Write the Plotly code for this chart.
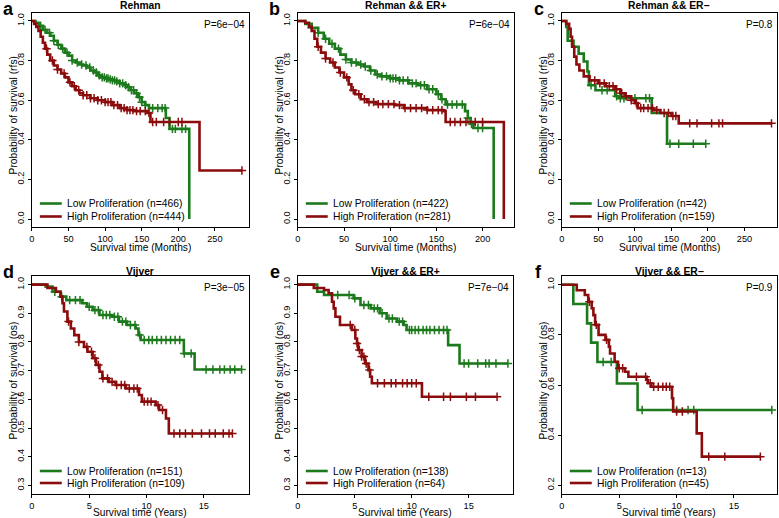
import plotly.graph_objects as go

W, H = 779, 518
GREEN = "#1c7a1c"
RED = "#8b0c0c"
FONT = "Liberation Sans, Arial, Helvetica, sans-serif"

# ---------------- labels ----------------
titles = ["Rehman", "Rehman && ER+", "Rehman && ER\u2212",
          "Vijver", "Vijver && ER+", "Vijver && ER\u2212"]
letters = ["a", "b", "c", "d", "e", "f"]
pvalues = ["P=6e\u221204", "P=6e\u221204", "P=0.8", "P=3e\u221205", "P=7e\u221204", "P=0.9"]
n_low = [466, 422, 42, 151, 138, 13]
n_high = [444, 281, 159, 109, 64, 45]
ytitles = ["Probability of survival (rfs)"] * 3 + ["Probability of survival (os)"] * 3
xtitles = ["Survival time (Months)"] * 3 + ["Survival time (Years)"] * 3

# ---------------- panel a : Rehman ----------------
a_low_t = [5, 10, 15, 20, 25, 30, 35, 40, 45, 50, 55, 60, 65, 70, 75, 80, 85, 90, 95, 100,
           105, 110, 115, 120, 125, 130, 135, 140, 145, 150, 155, 160, 183, 188, 215]
a_low_s = [0.99, 0.975, 0.955, 0.94, 0.925, 0.9, 0.88, 0.86, 0.84, 0.825, 0.8, 0.79, 0.78,
           0.775, 0.765, 0.75, 0.74, 0.725, 0.715, 0.71, 0.705, 0.7, 0.695, 0.685, 0.675,
           0.665, 0.65, 0.635, 0.615, 0.59, 0.575, 0.56, 0.51, 0.455, 0.0]
a_low_end = 215
a_low_cens = [12, 18, 24, 30, 36, 42, 48, 55, 62, 68, 74, 79, 84, 88, 92, 96, 99, 102, 104, 107,
              110, 113, 116, 120, 124, 128, 132, 136, 139, 143, 147, 150, 155, 165, 172, 178,
              182, 192, 196, 205, 210]
a_high_t = [3, 6, 9, 12, 15, 18, 21, 25, 30, 35, 40, 45, 50, 55, 60, 65, 70, 80, 90, 100,
            110, 120, 130, 140, 158, 162, 229]
a_high_s = [0.985, 0.97, 0.95, 0.92, 0.89, 0.86, 0.83, 0.8, 0.775, 0.755, 0.735, 0.715, 0.69,
            0.67, 0.65, 0.635, 0.625, 0.61, 0.6, 0.59, 0.575, 0.56, 0.55, 0.545, 0.535, 0.49,
            0.245]
a_high_end = 287
a_high_cens = [20, 28, 35, 44, 52, 58, 64, 70, 75, 80, 85, 90, 95, 100, 104, 108, 112, 117, 122,
               126, 130, 134, 138, 143, 148, 155, 160, 165, 170, 180, 188, 200, 205, 287]

# ---------------- panel b : Rehman && ER+ ----------------
b_low_t = [8, 15, 22, 28, 34, 40, 46, 52, 58, 65, 72, 78, 84, 90, 100, 110, 120, 130, 140,
           150, 155, 160, 181, 184, 187, 190, 212]
b_low_s = [0.985, 0.965, 0.94, 0.91, 0.885, 0.86, 0.83, 0.805, 0.79, 0.78, 0.77, 0.75, 0.73,
           0.72, 0.71, 0.7, 0.685, 0.675, 0.655, 0.63, 0.605, 0.578, 0.545, 0.51, 0.48, 0.46, 0.0]
b_low_end = 212
b_low_cens = [15, 22, 30, 37, 44, 52, 58, 63, 68, 73, 79, 86, 91, 96, 100, 103, 106, 110, 114,
              119, 124, 128, 133, 137, 142, 146, 152, 156, 162, 167, 172, 178, 184, 188, 195, 200]
b_high_t = [8, 12, 15, 18, 21, 25, 30, 35, 40, 45, 50, 55, 58, 62, 68, 75, 85, 105, 115, 140,
            158, 160, 223]
b_high_s = [0.99, 0.97, 0.95, 0.91, 0.87, 0.84, 0.81, 0.79, 0.765, 0.74, 0.715, 0.68, 0.65,
            0.63, 0.605, 0.59, 0.58, 0.575, 0.56, 0.55, 0.545, 0.49, 0.0]
b_high_end = 223
b_high_cens = [22, 30, 38, 46, 53, 60, 66, 72, 77, 82, 87, 92, 98, 104, 110, 116, 122, 128, 134,
               140, 146, 152, 156, 165, 170, 176, 182, 192, 200]

# ---------------- panel c : Rehman && ER- ----------------
c_low_t = [6, 8, 16, 23, 30, 35, 37, 46, 73, 78, 123, 144]
c_low_s = [0.97, 0.9, 0.87, 0.835, 0.795, 0.745, 0.675, 0.65, 0.62, 0.61, 0.535, 0.38]
c_low_end = 197
c_low_cens = [40, 55, 62, 75, 80, 85, 100, 115, 120, 148, 160, 180, 197]
c_high_t = [6, 10, 12, 14, 17, 20, 24, 30, 38, 50, 60, 73, 80, 87, 95, 100, 104, 125, 135, 150,
            160]
c_high_s = [0.985, 0.96, 0.92, 0.87, 0.82, 0.78, 0.75, 0.72, 0.7, 0.685, 0.67, 0.655, 0.635,
            0.62, 0.6, 0.585, 0.56, 0.55, 0.535, 0.52, 0.483]
c_high_end = 287
c_high_cens = [45, 52, 58, 65, 70, 75, 82, 88, 95, 102, 108, 112, 118, 124, 130, 140, 146, 152,
               156, 175, 185, 205, 215, 220, 287]

# ---------------- panel d : Vijver ----------------
d_low_t = [1.2, 1.8, 2.5, 3.0, 4.4, 4.8, 5.3, 5.9, 7.0, 7.6, 8.3, 9.05, 9.3, 9.5, 13.26, 14.2]
d_low_s = [0.993, 0.975, 0.958, 0.946, 0.935, 0.923, 0.911, 0.894, 0.888, 0.871, 0.859, 0.847,
           0.824, 0.807, 0.76, 0.704]
d_low_end = 18.3
d_low_cens = [2.0, 2.6, 3.3, 3.8, 4.2, 5.0, 5.5, 5.8, 6.2, 6.5, 6.8, 7.2, 7.5, 7.9, 8.2, 8.6, 9.0,
              9.4, 9.8, 10.2, 10.5, 10.9, 11.3, 11.7, 12.1, 12.5, 12.9, 13.3, 13.9, 15.2, 15.8,
              16.4, 16.8, 17.3, 17.7, 18.3]
d_high_t = [1.36, 2.1, 2.5, 2.67, 2.8, 3.1, 3.4, 3.7, 4.1, 4.55, 4.85, 5.3, 5.6, 5.9, 6.15, 6.7,
            7.3, 8.2, 9.35, 9.6, 10.8, 11.1, 11.7, 11.95]
d_high_s = [0.988, 0.975, 0.958, 0.935, 0.906, 0.871, 0.847, 0.824, 0.8, 0.783, 0.766, 0.743,
            0.72, 0.696, 0.673, 0.661, 0.65, 0.638, 0.615, 0.592, 0.58, 0.563, 0.533, 0.481]
d_high_end = 17.5
d_high_cens = [3.2, 4.1, 4.8, 5.2, 5.5, 5.8, 6.2, 6.6, 7.0, 7.4, 7.8, 8.1, 8.5, 8.9, 9.2, 9.8,
               10.1, 10.4, 11.0, 11.4, 12.4, 12.9, 13.4, 14.0, 14.8, 15.5, 16.0, 16.7, 17.2, 17.5]

# ---------------- panel e : Vijver && ER+ ----------------
e_low_t = [1.7, 2.3, 4.9, 5.5, 6.4, 7.2, 7.8, 8.7, 9.3, 9.55, 13.2, 14.2]
e_low_s = [0.975, 0.964, 0.952, 0.929, 0.917, 0.9, 0.882, 0.871, 0.859, 0.842, 0.789, 0.725]
e_low_end = 18.45
e_low_cens = [3.5, 4.5, 5.0, 5.8, 6.2, 6.7, 7.0, 7.4, 8.0, 8.3, 8.9, 9.2, 9.8, 10.0, 10.3, 10.6,
              11.0, 11.3, 11.6, 12.0, 12.4, 12.8, 13.1, 14.6, 15.0, 15.8, 16.5, 16.8, 17.4, 18.45]
e_high_t = [1.4, 2.3, 2.7, 3.0, 3.15, 3.3, 3.7, 4.75, 5.05, 5.2, 5.3, 5.6, 5.9, 6.2, 6.35, 6.5,
            10.9]
e_high_s = [0.988, 0.981, 0.97, 0.94, 0.917, 0.888, 0.859, 0.842, 0.812, 0.795, 0.772, 0.749,
            0.725, 0.702, 0.679, 0.656, 0.609]
e_high_end = 17.5
e_high_cens = [4.6, 5.0, 5.2, 5.4, 5.6, 5.8, 6.0, 6.3, 7.0, 7.6, 8.2, 8.6, 9.2, 9.6, 10.0, 10.4,
               11.5, 12.8, 13.4, 14.8, 15.6, 17.5]

# ---------------- panel f : Vijver && ER- ----------------
f_low_t = [1.0, 2.2, 2.55, 3.1, 4.8, 6.6]
f_low_s = [0.923, 0.846, 0.769, 0.692, 0.606, 0.5]
f_low_end = 18.3
f_low_cens = [3.6, 4.3, 7.0, 10.0, 11.0, 11.5, 18.3]
f_high_t = [1.3, 2.0, 2.3, 2.6, 2.75, 2.9, 3.2, 3.8, 4.1, 4.2, 4.6, 4.9, 5.5, 5.8, 7.4, 7.5,
            7.8, 9.6, 9.7, 11.75, 12.2]
f_high_s = [0.978, 0.959, 0.932, 0.906, 0.879, 0.84, 0.8, 0.78, 0.753, 0.726, 0.693, 0.667,
            0.653, 0.633, 0.62, 0.607, 0.593, 0.547, 0.494, 0.407, 0.314]
f_high_end = 17.35
f_high_cens = [2.4, 3.0, 3.9, 5.0, 5.3, 6.5, 7.3, 7.7, 8.0, 8.4, 8.8, 9.1, 9.4, 10.0, 10.5,
               12.8, 14.2, 17.3]

# ---------------- axes ----------------
x_ticks = [[0, 50, 100, 150, 200, 250], [0, 50, 100, 150, 200], [0, 50, 100, 150, 200, 250],
           [0, 5, 10, 15], [0, 5, 10, 15], [0, 5, 10, 15]]
y_ticks = [[0.0, 0.2, 0.4, 0.6, 0.8, 1.0]] * 3 + \
          [[0.3, 0.4, 0.5, 0.6, 0.7, 0.8, 0.9, 1.0]] * 2 + [[0.2, 0.4, 0.6, 0.8, 1.0]]
x_ranges = [[0, 296], [0, 233.5], [0, 294.5], [0, 18.95], [0, 18.9], [0, 18.75]]
y_ranges = [[-0.04, 1.04]] * 3 + [[0.27, 1.03], [0.27, 1.03], [0.165, 1.035]]

# plot boxes in pixels: left, right, top, bottom
boxes = [(29, 246.5, 13, 227), (296, 512.5, 13, 227), (561, 777, 13, 227),
         (29, 247, 276, 494), (296, 512, 276, 494), (561, 777, 276, 494)]

panels = [
    (a_low_t, a_low_s, a_low_end, a_low_cens, a_high_t, a_high_s, a_high_end, a_high_cens),
    (b_low_t, b_low_s, b_low_end, b_low_cens, b_high_t, b_high_s, b_high_end, b_high_cens),
    (c_low_t, c_low_s, c_low_end, c_low_cens, c_high_t, c_high_s, c_high_end, c_high_cens),
    (d_low_t, d_low_s, d_low_end, d_low_cens, d_high_t, d_high_s, d_high_end, d_high_cens),
    (e_low_t, e_low_s, e_low_end, e_low_cens, e_high_t, e_high_s, e_high_end, e_high_cens),
    (f_low_t, f_low_s, f_low_end, f_low_cens, f_high_t, f_high_s, f_high_end, f_high_cens),
]


def px(x):
    return x / W


def py(y):
    return 1 - y / H


def step_value(times, surv, t):
    v = 1.0
    for ti, si in zip(times, surv):
        if ti <= t:
            v = si
    return v


fig = go.Figure()
layout = dict(width=W, height=H, margin=dict(l=0, r=0, t=0, b=0, pad=0), autosize=False,
              paper_bgcolor="white", plot_bgcolor="white", showlegend=False,
              font=dict(family=FONT, size=10, color="black"))
annotations = []
shapes = []

for i, (lt, ls, lend, lc, ht, hs, hend, hc) in enumerate(panels):
    k = i + 1
    xa = "x" if k == 1 else f"x{k}"
    ya = "y" if k == 1 else f"y{k}"
    L, R, T, B = boxes[i]
    for times, surv, end, cens, col in [(lt, ls, lend, lc, GREEN), (ht, hs, hend, hc, RED)]:
        xs = [0] + list(times) + [end]
        ys = [1.0] + list(surv) + [surv[-1]]
        fig.add_trace(go.Scatter(x=xs, y=ys, mode="lines", line=dict(color=col, width=2.6, shape="hv"),
                                 xaxis=xa, yaxis=ya, hoverinfo="skip"))
        cy = [step_value(times, surv, c) for c in cens]
        fig.add_trace(go.Scatter(x=cens, y=cy, mode="markers", cliponaxis=False,
                                 marker=dict(symbol="cross-thin", size=6, color=col,
                                             line=dict(width=1.5, color=col)),
                                 xaxis=xa, yaxis=ya, hoverinfo="skip"))
    axis_common = dict(showline=True, mirror=True, linecolor="black", linewidth=1,
                       ticks="outside", ticklen=3, tickwidth=1, tickcolor="black",
                       showgrid=False, zeroline=False, tickfont=dict(family=FONT, size=9.2))
    layout["xaxis" if k == 1 else f"xaxis{k}"] = dict(
        domain=[px(L), px(R)], anchor=ya, range=x_ranges[i], tickmode="array",
        tickvals=x_ticks[i], ticktext=[str(v) for v in x_ticks[i]], **axis_common)
    layout["yaxis" if k == 1 else f"yaxis{k}"] = dict(
        domain=[py(B), py(T)], anchor=xa, range=y_ranges[i], tickmode="array",
        tickvals=y_ticks[i], ticktext=[f"{v:.1f}" for v in y_ticks[i]], tickangle=-90,
        **axis_common)

    cx = (L + R) / 2
    row2 = i >= 3
    # title
    annotations.append(dict(x=px(cx), y=py(271.5 if row2 else 6), xref="paper", yref="paper",
                            text=f"<b>{titles[i]}</b>", showarrow=False, xanchor="center",
                            yanchor="middle", font=dict(size=10.3, family=FONT)))
    # panel letter
    annotations.append(dict(x=px(L - 23), y=py(271.5 if row2 else 8.5),
                            xref="paper", yref="paper", text=f"<b>{letters[i]}</b>",
                            showarrow=False, xanchor="center", yanchor="middle",
                            font=dict(size=18, family=FONT)))
    # p value
    annotations.append(dict(x=px(R - 2), y=py(T + 11.5), xref="paper", yref="paper",
                            text=pvalues[i], showarrow=False, xanchor="right", yanchor="middle",
                            font=dict(size=10, family=FONT)))
    # axis titles
    annotations.append(dict(x=px(cx), y=py(B + (18 if row2 else 21)), xref="paper", yref="paper",
                            text=xtitles[i], showarrow=False, xanchor="center", yanchor="middle",
                            font=dict(size=10.2, family=FONT)))
    annotations.append(dict(x=px(L - 18.5), y=py((T + B) / 2 - 5), xref="paper", yref="paper",
                            text=ytitles[i], showarrow=False, textangle=-90, xanchor="center",
                            yanchor="middle", font=dict(size=10.3, family=FONT)))
    # legend
    ly = [471, 483] if row2 else [203.5, 216.5]
    for yy, col, lab in [(ly[0], GREEN, f"Low Proliferation (n={n_low[i]})"),
                         (ly[1], RED, f"High Proliferation (n={n_high[i]})")]:
        shapes.append(dict(type="line", xref="paper", yref="paper", x0=px(L + 8), x1=px(L + 30),
                           y0=py(yy), y1=py(yy), line=dict(color=col, width=2.6)))
        annotations.append(dict(x=px(L + 33.5), y=py(yy), xref="paper", yref="paper", text=lab,
                                showarrow=False, xanchor="left", yanchor="middle",
                                font=dict(size=10.3, family=FONT)))

layout["annotations"] = annotations
layout["shapes"] = shapes
fig.update_layout(**layout)
fig.write_html("out.html", config={"displayModeBar": False},
               post_script="document.body.style.margin='0';document.body.style.overflow='hidden';")
